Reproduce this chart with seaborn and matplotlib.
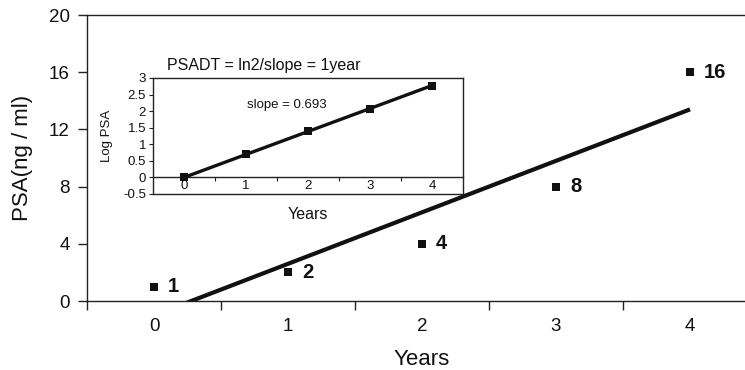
import numpy as np
import matplotlib
matplotlib.use("Agg")
import matplotlib.pyplot as plt
from matplotlib.ticker import FixedLocator, NullFormatter, FixedFormatter
import seaborn as sns

# ---- data ----
years = [0, 1, 2, 3, 4]
year_labels = ["0", "1", "2", "3", "4"]
psa = [1, 2, 4, 8, 16]
log_psa = [0.0, 0.693, 1.386, 2.079, 2.773]
y_ticks_main = [0, 4, 8, 12, 16, 20]
y_ticks_inset = [-0.5, 0, 0.5, 1, 1.5, 2, 2.5, 3]
inset_title = "PSADT = ln2/slope = 1year"
slope_note = "slope = 0.693"

sns.set_style("ticks")
plt.rcParams["font.family"] = ["Liberation Sans", "DejaVu Sans"]

W, H = 745, 370
fig = plt.figure(figsize=(W / 100, H / 100), dpi=100)

ink = "#111111"
spine_c = "#222222"

# ---- main axes (extends past the right edge, as in the cropped original) ----
ax = fig.add_axes([87 / W, (H - 301) / H, (757 - 87) / W, (301 - 15) / H])
sns.regplot(x=years, y=psa, ci=None, scatter=False, truncate=True, ax=ax,
            line_kws=dict(color=ink, lw=3.0, solid_capstyle="butt"))
sns.scatterplot(x=years, y=psa, marker="s", s=32, color=ink, edgecolor="none",
                ax=ax, zorder=5, legend=False)
for xv, yv in zip(years, psa):
    ax.annotate(f"{yv}", (xv, yv), xytext=(10, 0), textcoords="offset points",
                ha="left", va="center", fontsize=14.5, fontweight="bold", color=ink)

ax.set_xlim(-0.5, 4.5)
ax.set_ylim(0, 20)
ax.set_yticks(y_ticks_main)
ax.set_yticklabels([str(v) for v in y_ticks_main])
ax.xaxis.set_major_locator(FixedLocator([-0.5, 0.5, 1.5, 2.5, 3.5]))
ax.xaxis.set_major_formatter(NullFormatter())
ax.xaxis.set_minor_locator(FixedLocator(years))
ax.xaxis.set_minor_formatter(FixedFormatter(year_labels))
ax.tick_params(axis="x", which="major", direction="out", length=6.5, width=1, color=spine_c)
ax.tick_params(axis="x", which="minor", length=0, pad=12, labelsize=13.5, labelcolor=ink)
ax.tick_params(axis="y", direction="out", length=6.5, width=1, color=spine_c,
               pad=6, labelsize=13.5, labelcolor=ink)
for s in ["left", "bottom", "top"]:
    ax.spines[s].set_visible(True)
    ax.spines[s].set_color(spine_c)
    ax.spines[s].set_linewidth(1.0)
ax.spines["right"].set_visible(False)
ax.set_xlabel("Years", fontsize=16, color=ink, labelpad=10)
ax.set_ylabel("PSA(ng / ml)", fontsize=16, color=ink, labelpad=11)
ax.grid(False)

# ---- inset ----
ax_in = fig.add_axes([153 / W, (H - 194) / H, (463 - 153) / W, (194 - 78) / H])
ax_in.set_facecolor("white")
sns.lineplot(x=years, y=log_psa, marker="s", markersize=6, markeredgewidth=0,
             color=ink, lw=2.4, ax=ax_in, zorder=5)
ax_in.set_xlim(-0.5, 4.5)
ax_in.set_ylim(-0.5, 3)
ax_in.set_yticks(y_ticks_inset)
ax_in.set_yticklabels([f"{v:g}" for v in y_ticks_inset])
ax_in.spines["bottom"].set_position(("data", 0))
ax_in.axhline(-0.5, color=spine_c, lw=1.0, clip_on=False, zorder=6)
ax_in.xaxis.set_major_locator(FixedLocator([0.5, 1.5, 2.5, 3.5]))
ax_in.xaxis.set_major_formatter(NullFormatter())
ax_in.xaxis.set_minor_locator(FixedLocator(years))
ax_in.xaxis.set_minor_formatter(FixedFormatter(year_labels))
ax_in.tick_params(axis="x", which="major", direction="out", length=3, width=0.8, color=spine_c)
ax_in.tick_params(axis="x", which="minor", length=0, pad=2, labelsize=9.5, labelcolor=ink)
ax_in.tick_params(axis="y", direction="out", length=3, width=0.8, color=spine_c,
                  pad=2, labelsize=9.5, labelcolor=ink)
for s in ["left", "bottom", "top", "right"]:
    ax_in.spines[s].set_visible(True)
    ax_in.spines[s].set_color(spine_c)
    ax_in.spines[s].set_linewidth(1.0)
ax_in.set_xlabel("Years", fontsize=11.5, color=ink)
ax_in.xaxis.set_label_coords(0.5, -0.115)
ax_in.set_ylabel("Log PSA", fontsize=9.5, color=ink)
ax_in.yaxis.set_label_coords(-0.13, 0.5)
ax_in.text(0.044, 1.11, inset_title, transform=ax_in.transAxes, ha="left",
           va="center", fontsize=11.5, color=ink)
ax_in.text(1.66, 2.18, slope_note, ha="center", va="center", fontsize=9.5, color=ink)
ax_in.grid(False)

fig.savefig("out.png", dpi=100)
